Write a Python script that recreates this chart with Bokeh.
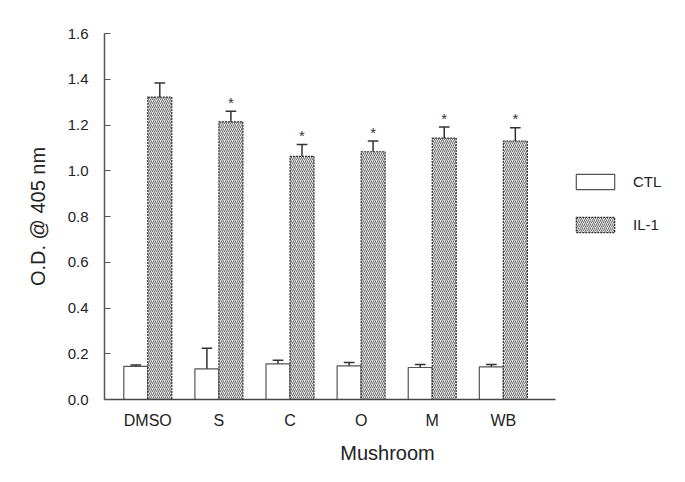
from bokeh.plotting import figure
from bokeh.models import (ColumnDataSource, FixedTicker, NumeralTickFormatter, Legend,
                          LegendItem, Range1d)
from bokeh.core.properties import value
from bokeh.embed import file_html
from bokeh.resources import INLINE

# ---- data ----
categories = ["DMSO", "S", "C", "O", "M", "WB"]
ctl = [0.145, 0.134, 0.156, 0.147, 0.140, 0.143]
ctl_err = [0.006, 0.090, 0.016, 0.015, 0.013, 0.010]
il1 = [1.322, 1.214, 1.063, 1.083, 1.143, 1.130]
il1_err = [0.062, 0.046, 0.052, 0.047, 0.048, 0.058]
sig = ["", "*", "*", "*", "*", "*"]
y_ticks = [0.0, 0.2, 0.4, 0.6, 0.8, 1.0, 1.2, 1.4, 1.6]

FONT = "Liberation Sans"
BW = 0.3375   # bar width in category units
CAP = 0.075
X_START, X_AXIS_END, X_END = -0.609, 5.734, 7.351

xs = list(range(len(categories)))
x_ctl = [x - BW / 2 for x in xs]
x_il1 = [x + BW / 2 for x in xs]

src = ColumnDataSource(dict(
    x_ctl=x_ctl, x_il1=x_il1,
    ctl=ctl, il1=il1,
    ctl_hi=[v + e for v, e in zip(ctl, ctl_err)],
    il1_hi=[v + e for v, e in zip(il1, il1_err)],
    ctl_l=[x - CAP for x in x_ctl], ctl_r=[x + CAP for x in x_ctl],
    il1_l=[x - CAP for x in x_il1], il1_r=[x + CAP for x in x_il1],
    sig=sig,
))

p = figure(width=678, height=474, output_backend="svg", toolbar_location=None,
           x_range=Range1d(X_START, X_END), y_range=Range1d(0, 1.6),
           min_border_left=104, min_border_top=33, min_border_bottom=75,
           min_border_right=8)
p.outline_line_color = None
p.grid.visible = False
p.background_fill_color = "white"

# bars
r_ctl = p.vbar(x="x_ctl", top="ctl", bottom=0, width=BW, source=src,
               fill_color="white", line_color="#555555", line_width=1.2)
r_il1 = p.vbar(x="x_il1", top="il1", bottom=0, width=BW, source=src,
               fill_color="#e0e0e0", hatch_pattern="right_diagonal_line",
               hatch_color="#666666", hatch_scale=4, hatch_weight=0.9,
               line_color="#333333", line_width=1.2, line_dash="2 1")

# error bars (upper only)
p.segment(x0="x_ctl", y0="ctl", x1="x_ctl", y1="ctl_hi", source=src,
          line_color="#333333", line_width=1.5)
p.segment(x0="ctl_l", y0="ctl_hi", x1="ctl_r", y1="ctl_hi", source=src,
          line_color="#333333", line_width=1.5)
p.segment(x0="x_il1", y0="il1", x1="x_il1", y1="il1_hi", source=src,
          line_color="#333333", line_width=1.5)
p.segment(x0="il1_l", y0="il1_hi", x1="il1_r", y1="il1_hi", source=src,
          line_color="#333333", line_width=1.5)

# significance stars
p.text(x="x_il1", y="il1_hi", text="sig", source=src, text_align="center",
       text_baseline="middle", y_offset=-9, text_font=value(FONT),
       text_font_size="15px", text_color="#333333")

# axes
xa = p.xaxis[0]
xa.bounds = (X_START, X_AXIS_END)
xa.ticker = FixedTicker(ticks=xs)
xa.major_label_overrides = {i: c for i, c in enumerate(categories)}
xa.major_tick_line_color = None
xa.minor_tick_line_color = None
xa.axis_line_color = "#444444"
xa.axis_line_width = 1.5
xa.major_label_text_font = FONT
xa.major_label_text_font_size = "16px"
xa.major_label_text_color = "#222222"
xa.major_label_standoff = 6
xa.axis_label = "Mushroom"
xa.axis_label_text_font = FONT
xa.axis_label_text_font_size = "20px"
xa.axis_label_text_font_style = "normal"
xa.axis_label_text_color = "#222222"
xa.axis_label_standoff = 10

ya = p.yaxis[0]
ya.ticker = FixedTicker(ticks=y_ticks)
ya.formatter = NumeralTickFormatter(format="0.0")
ya.major_tick_in = 6
ya.major_tick_out = 0
ya.major_tick_line_color = "#555555"
ya.minor_tick_line_color = None
ya.axis_line_color = "#555555"
ya.axis_line_width = 1.5
ya.major_label_text_font = FONT
ya.major_label_text_font_size = "15px"
ya.major_label_text_color = "#222222"
ya.major_label_standoff = 16
ya.axis_label = "O.D. @ 405 nm"
ya.axis_label_text_font = FONT
ya.axis_label_text_font_size = "20px"
ya.axis_label_text_font_style = "normal"
ya.axis_label_text_color = "#222222"
ya.axis_label_standoff = 16

legend = Legend(items=[LegendItem(label="CTL", renderers=[r_ctl]),
                       LegendItem(label="IL-1", renderers=[r_il1])],
                location=(467, 165), orientation="vertical",
                glyph_width=48, glyph_height=19, label_height=19,
                spacing=24, label_standoff=14, padding=0, margin=0,
                border_line_color=None, background_fill_alpha=0,
                label_text_font=FONT, label_text_font_size="15px",
                label_text_color="#222222")
p.add_layout(legend, "center")

open("out.html", "w").write(file_html(p, INLINE))
